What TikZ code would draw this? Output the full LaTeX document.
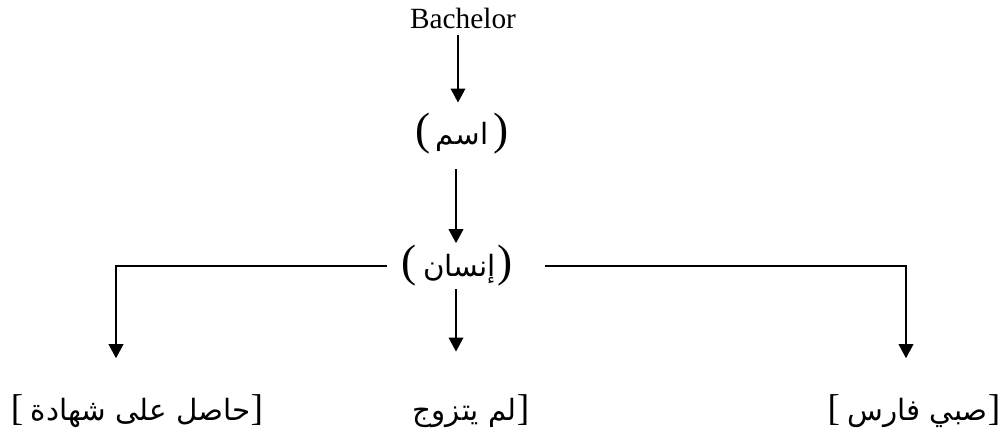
\documentclass[tikz,border=0pt]{standalone}
\usepackage{fontspec}
\setmainfont{Liberation Serif}
\newfontfamily\arabicfont[Script=Arabic]{DejaVu Sans}
\TeXXeTstate=1
\usetikzlibrary{arrows.meta}
\newcommand{\prn}[1]{{\fontsize{34}{38}\selectfont #1}}
\newcommand{\brk}[1]{{\fontsize{28}{32}\selectfont #1}}
\begin{document}
\begin{tikzpicture}[x=0.75pt,y=-0.75pt]
\tikzset{
  lbl/.style={inner sep=0pt, font=\fontsize{22}{26}\selectfont},
  arr/.style={line width=1.1pt, -{Triangle[length=10.5pt,width=11pt]}},
}
\useasboundingbox (0,0) rectangle (1005,432);
\node[lbl] (bach) at (463,18) {Bachelor};
\node[lbl] (ism) at (462,134) {\prn{(}\hspace{4pt}{\fontsize{22}{26}\arabicfont\beginR اسم\endR}\hspace{4pt}\prn{)}};
\node[lbl] (insan) at (457,266) {\prn{(}\hspace{5pt}{\fontsize{22}{26}\arabicfont\beginR إنسان\endR}\hspace{1pt}\prn{)}};
\node[lbl] (lbl1) at (137,411) {\brk{[}\ {\fontsize{22}{26}\arabicfont\beginR حاصل على شهادة\endR}\brk{]}};
\node[lbl] (lbl2) at (471,411) {{\fontsize{22}{26}\arabicfont\beginR لم يتزوج\endR}\brk{]}};
\node[lbl] (lbl3) at (914,411) {\brk{[}\ {\fontsize{22}{26}\arabicfont\beginR صبي فارس\endR}\brk{]}};
\coordinate (lcol) at (116,0);
\coordinate (rcol) at (906,0);
\draw[arr, shorten <=5pt, shorten >=8pt] (bach.south -| 458,0) -- (ism.north -| 458,0);
\draw[arr, shorten <=11pt, shorten >=1.5pt] (ism.south -| 456,0) -- (insan.north -| 456,0);
\draw[arr, shorten <=2pt, shorten >=32pt] (insan.south -| 456,0) -- (lbl2.north -| 456,0);
\draw[arr, shorten >=27pt] (insan.west) ++(-14,0) -| (lcol |- lbl1.north);
\draw[arr, shorten >=27pt] (insan.east) ++(32,0) -| (rcol |- lbl3.north);
\end{tikzpicture}
\end{document}
